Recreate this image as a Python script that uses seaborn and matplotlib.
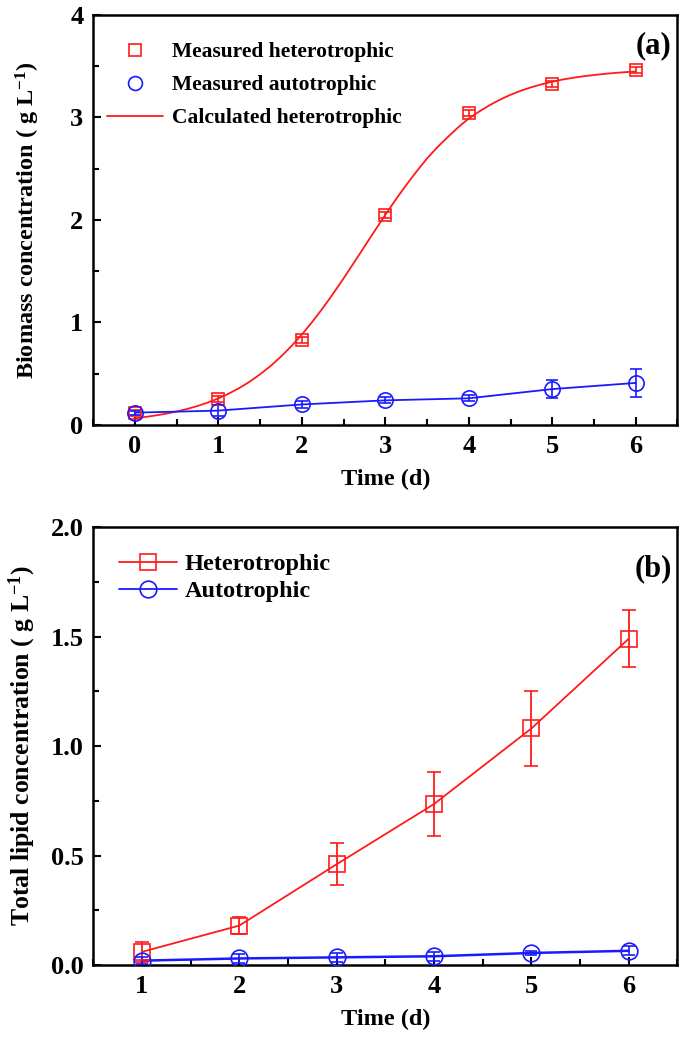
import matplotlib
matplotlib.use("Agg")
import matplotlib.pyplot as plt
import seaborn as sns
from matplotlib.ticker import MultipleLocator, FormatStrFormatter
from matplotlib.lines import Line2D

# panel (a): biomass
days_a = [0, 1, 2, 3, 4, 5, 6]
het_biomass = [0.12, 0.25, 0.83, 2.05, 3.04, 3.33, 3.46]
het_biomass_err = [0.03, 0.03, 0.03, 0.03, 0.03, 0.03, 0.03]
auto_biomass = [0.12, 0.14, 0.20, 0.24, 0.26, 0.35, 0.41]
auto_biomass_err = [0.02, 0.05, 0.03, 0.03, 0.03, 0.085, 0.14]

calc_t = [0, 0.125, 0.25, 0.375, 0.5, 0.625, 0.75, 0.875,
          1.0, 1.125, 1.25, 1.375, 1.5, 1.625, 1.75, 1.875,
          2.0, 2.125, 2.25, 2.375, 2.5, 2.625, 2.75, 2.875,
          3.0, 3.125, 3.25, 3.375, 3.5, 3.625, 3.75, 3.875,
          4.0, 4.125, 4.25, 4.375, 4.5, 4.625, 4.75, 4.875,
          5.0, 5.125, 5.25, 5.375, 5.5, 5.625, 5.75, 5.875, 6.0]
calc_biomass = [0.065, 0.078, 0.093, 0.110, 0.131, 0.156, 0.185, 0.219,
                0.259, 0.306, 0.360, 0.422, 0.494, 0.575, 0.667, 0.769,
                0.882, 1.006, 1.139, 1.281, 1.430, 1.584, 1.740, 1.896,
                2.050, 2.199, 2.340, 2.474, 2.600, 2.711, 2.810, 2.905,
                2.990, 3.058, 3.120, 3.174, 3.221, 3.261, 3.295, 3.324,
                3.349, 3.370, 3.387, 3.402, 3.414, 3.425, 3.434, 3.442, 3.448]

# panel (b): total lipid
days_b = [1, 2, 3, 4, 5, 6]
het_lipid = [0.06, 0.18, 0.46, 0.735, 1.08, 1.49]
het_lipid_err = [0.045, 0.04, 0.095, 0.145, 0.17, 0.13]
auto_lipid = [0.02, 0.03, 0.035, 0.04, 0.055, 0.065]
auto_lipid_err = [0.015, 0.02, 0.02, 0.02, 0.01, 0.02]

RED = "#ff1a1a"
BLUE = "#1a1aff"

sns.set_theme(style="ticks")
plt.rcParams["font.family"] = ["Liberation Serif", "DejaVu Serif"]
plt.rcParams["font.weight"] = "bold"
plt.rcParams["axes.labelweight"] = "bold"
plt.rcParams["text.color"] = "black"
plt.rcParams["axes.labelcolor"] = "black"
plt.rcParams["mathtext.fontset"] = "custom"
plt.rcParams["mathtext.rm"] = "Liberation Serif:bold"
plt.rcParams["mathtext.default"] = "rm"

fig = plt.figure(figsize=(6.85, 10.38), dpi=100)
ax1 = fig.add_axes([0.136, 0.5906, 0.853, 0.395])
ax2 = fig.add_axes([0.136, 0.0703, 0.853, 0.4220])


def style_axes(ax):
    for s in ax.spines.values():
        s.set_linewidth(1.8)
        s.set_color("black")
    ax.tick_params(which="both", direction="in", top=False, right=False,
                   width=1.5, labelsize=19, pad=7, colors="black")
    ax.tick_params(which="major", length=6)
    ax.tick_params(which="minor", length=4)
    for lab in ax.get_xticklabels() + ax.get_yticklabels():
        lab.set_fontweight("bold")


# ---- panel (a)
sns.lineplot(x=calc_t, y=calc_biomass, ax=ax1, color=RED, linewidth=1.3)
sns.lineplot(x=days_a, y=auto_biomass, ax=ax1, color=BLUE, linewidth=1.3)
ax1.errorbar(days_a, het_biomass, yerr=het_biomass_err, fmt="s", ms=9,
             mfc="none", mec=RED, mew=1.2, ecolor=RED, elinewidth=1.2,
             capsize=4, capthick=1.2, zorder=4)
ax1.errorbar(days_a, auto_biomass, yerr=auto_biomass_err, fmt="o", ms=11,
             mfc="none", mec=BLUE, mew=1.2, ecolor=BLUE, elinewidth=1.2,
             capsize=4, capthick=1.2, zorder=4)
ax1.set_xlim(-0.5, 6.5)
ax1.set_ylim(0, 4)
ax1.xaxis.set_major_locator(MultipleLocator(1))
ax1.xaxis.set_minor_locator(MultipleLocator(0.5))
ax1.yaxis.set_major_locator(MultipleLocator(1))
ax1.yaxis.set_minor_locator(MultipleLocator(0.5))
ax1.set_xlabel("Time (d)", fontsize=17.5, fontweight="bold", labelpad=8)
ax1.set_ylabel("Biomass concentration ( g L$^{-1}$)", fontsize=17.5,
               fontweight="bold", labelpad=20)
style_axes(ax1)

handles_a = [
    Line2D([], [], linestyle="none", marker="s", ms=9, mfc="none", mec=RED, mew=1.2),
    Line2D([], [], linestyle="none", marker="o", ms=10, mfc="none", mec=BLUE, mew=1.2),
    Line2D([], [], color=RED, linewidth=1.3),
]
ax1.legend(handles_a, ["Measured heterotrophic", "Measured autotrophic",
                       "Calculated heterotrophic"],
           loc="upper left", bbox_to_anchor=(-0.005, 0.976), frameon=False,
           prop={"size": 15.5, "weight": "bold"}, handlelength=2.6,
           handletextpad=0.4, labelspacing=0.6, borderaxespad=0.4)
ax1.text(0.99, 0.925, "(a)", transform=ax1.transAxes, ha="right", va="center",
         fontsize=22, fontweight="bold")

# ---- panel (b)
sns.lineplot(x=days_b, y=het_lipid, ax=ax2, color=RED, linewidth=1.3)
sns.lineplot(x=days_b, y=auto_lipid, ax=ax2, color=BLUE, linewidth=1.8)
ax2.errorbar(days_b, het_lipid, yerr=het_lipid_err, fmt="s", ms=11,
             mfc="none", mec=RED, mew=1.2, ecolor=RED, elinewidth=1.3,
             capsize=5, capthick=1.3, zorder=4)
ax2.errorbar(days_b, auto_lipid, yerr=auto_lipid_err, fmt="o", ms=12,
             mfc="none", mec=BLUE, mew=1.2, ecolor=BLUE, elinewidth=1.2,
             capsize=4, capthick=1.2, zorder=4)
ax2.set_xlim(0.5, 6.5)
ax2.set_ylim(0, 2.0)
ax2.xaxis.set_major_locator(MultipleLocator(1))
ax2.xaxis.set_minor_locator(MultipleLocator(0.5))
ax2.yaxis.set_major_locator(MultipleLocator(0.5))
ax2.yaxis.set_minor_locator(MultipleLocator(0.25))
ax2.yaxis.set_major_formatter(FormatStrFormatter("%.1f"))
ax2.set_xlabel("Time (d)", fontsize=17.5, fontweight="bold", labelpad=8)
ax2.set_ylabel("Total lipid concentration ( g L$^{-1}$)", fontsize=18.5,
               fontweight="bold", labelpad=9)
style_axes(ax2)

handles_b = [
    Line2D([], [], color=RED, linewidth=1.3, marker="s", ms=11, mfc="none", mec=RED, mew=1.2),
    Line2D([], [], color=BLUE, linewidth=1.3, marker="o", ms=12, mfc="none", mec=BLUE, mew=1.2),
]
ax2.legend(handles_b, ["Heterotrophic", "Autotrophic"], loc="upper left",
           bbox_to_anchor=(0.011, 0.984), frameon=False,
           prop={"size": 17.5, "weight": "bold"}, handlelength=2.4,
           handletextpad=0.3, labelspacing=0.2, borderaxespad=0.4)
ax2.text(0.99, 0.905, "(b)", transform=ax2.transAxes, ha="right", va="center",
         fontsize=22, fontweight="bold")

fig.savefig("out.png", dpi=100)
